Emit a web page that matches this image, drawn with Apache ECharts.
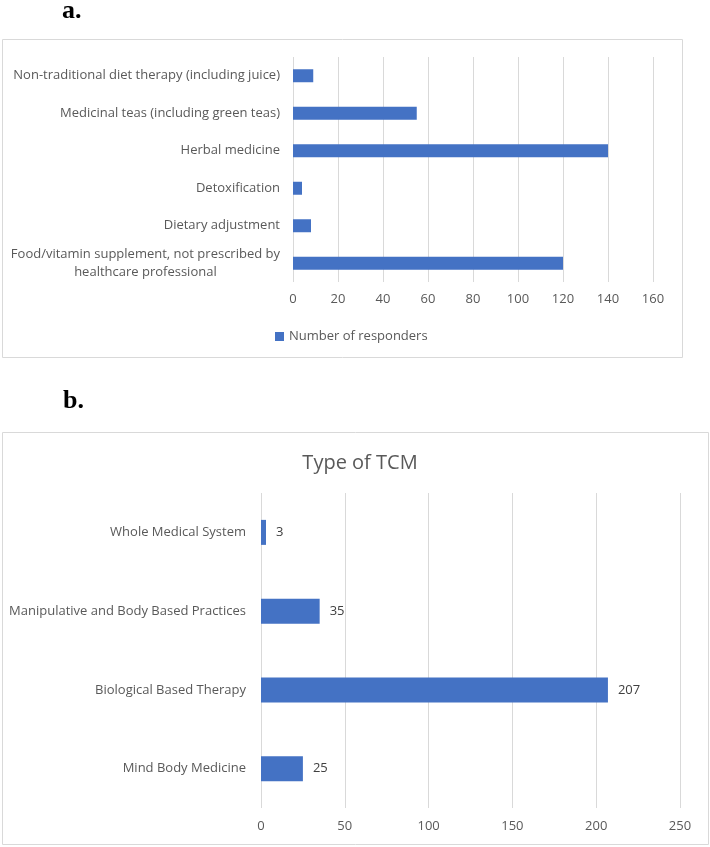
<!DOCTYPE html>
<html>
<head>
<meta charset="utf-8">
<script src="https://cdn.jsdelivr.net/npm/echarts@6/dist/echarts.min.js"></script>
<style>
  html, body { margin: 0; padding: 0; background: #fff; }
  #chart { width: 710px; height: 847px; }
</style>
</head>
<body>
<div id="chart"></div>
<script>
// panel a: self-administered products
const catsA = [
    'Non-traditional diet therapy (including juice)',
    'Medicinal teas (including green teas)',
    'Herbal medicine',
    'Detoxification',
    'Dietary adjustment',
    'Food/vitamin supplement, not prescribed by\nhealthcare professional'
];
const valsA = [9, 55, 140, 4, 8, 120];
const ticksA = { min: 0, max: 160, interval: 20 };

// panel b: type of TCM
const catsB = [
    'Whole Medical System',
    'Manipulative and Body Based Practices',
    'Biological Based Therapy',
    'Mind Body Medicine'
];
const valsB = [3, 35, 207, 25];
const ticksB = { min: 0, max: 250, interval: 50 };

const blue = '#4472C4';
const grey = '#595959';
const font = 'Open Sans';

const chart = echarts.init(document.getElementById('chart'));

// two-line labels: second line centred under the first
function catLabel(v) {
    const parts = v.split('\n');
    if (parts.length < 2) return v;
    return '{l1|' + parts[0] + '}\n{l2|' + parts[1] + '}';
}

chart.setOption({
    animation: false,
    textStyle: { fontFamily: font },
    graphic: [
        { type: 'rect', shape: { x: 2.5, y: 39.5, width: 680, height: 318 },
          style: { fill: 'none', stroke: '#d9d9d9', lineWidth: 1 } },
        { type: 'rect', shape: { x: 2.5, y: 432.5, width: 706, height: 412 },
          style: { fill: 'none', stroke: '#d9d9d9', lineWidth: 1 } },
        { type: 'text', left: 62, top: -2,
          style: { text: 'a.', font: 'bold 26px "Liberation Serif"', fill: '#000' } },
        { type: 'text', left: 63, top: 388,
          style: { text: 'b.', font: 'bold 26px "Liberation Serif"', fill: '#000' } }
    ],
    title: {
        text: 'Type of TCM',
        left: 355, top: 448, textAlign: 'center',
        textStyle: { fontSize: 20, fontWeight: 'normal', color: grey, fontFamily: font }
    },
    legend: {
        left: 270, top: 325,
        itemWidth: 9, itemHeight: 9, itemGap: 5,
        icon: 'rect',
        data: ['Number of responders'],
        textStyle: { fontSize: 13, color: grey, fontFamily: font }
    },
    grid: [
        { left: 293, right: 57, top: 57, bottom: 565 },
        { left: 261, right: 30, top: 493, bottom: 39 }
    ],
    xAxis: [
        { type: 'value', gridIndex: 0, min: ticksA.min, max: ticksA.max, interval: ticksA.interval,
          axisLine: { show: false }, axisTick: { show: false },
          axisLabel: { color: grey, fontSize: 13, margin: 11 },
          splitLine: { lineStyle: { color: '#d9d9d9' } } },
        { type: 'value', gridIndex: 1, min: ticksB.min, max: ticksB.max, interval: ticksB.interval,
          axisLine: { show: false }, axisTick: { show: false },
          axisLabel: { color: grey, fontSize: 13, margin: 12 },
          splitLine: { lineStyle: { color: '#d9d9d9' } } }
    ],
    yAxis: [
        { type: 'category', gridIndex: 0, data: catsA, inverse: true,
          axisLine: { show: false }, axisTick: { show: false },
          axisLabel: {
              color: grey, fontSize: 13, margin: 13, lineHeight: 18,
              formatter: catLabel,
              rich: {
                  l1: { fontSize: 13, color: grey, lineHeight: 18 },
                  l2: { fontSize: 13, color: grey, lineHeight: 18, align: 'center' }
              }
          } },
        { type: 'category', gridIndex: 1, data: catsB, inverse: true,
          axisLine: { show: false }, axisTick: { show: false },
          axisLabel: { color: grey, fontSize: 13, margin: 15 } }
    ],
    series: [
        { name: 'Number of responders', type: 'bar', xAxisIndex: 0, yAxisIndex: 0,
          data: valsA, barWidth: 13, itemStyle: { color: blue } },
        { name: 'Type of TCM', type: 'bar', xAxisIndex: 1, yAxisIndex: 1,
          data: valsB, barWidth: 25, itemStyle: { color: blue },
          label: { show: true, position: 'right', distance: 10, color: '#404040', fontSize: 13 } }
    ]
});
</script>
</body>
</html>
